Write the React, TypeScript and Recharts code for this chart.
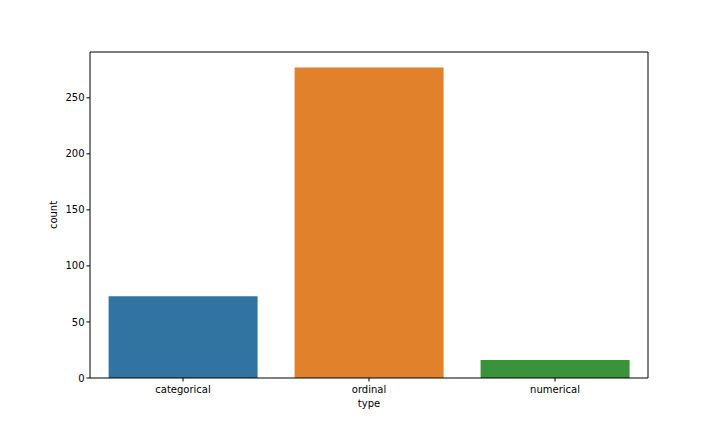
import React from "react";
import { BarChart, Bar, XAxis, YAxis, Cell, Label } from "recharts";

const categories = ["categorical", "ordinal", "numerical"];
const counts = [73, 277, 16];
const colors = ["#3274a1", "#e1812c", "#3a923a"];
const yTicks = [0, 50, 100, 150, 200, 250];

const data = categories.map((c, i) => ({ type: c, count: counts[i] }));

const font = { fontFamily: "DejaVu Sans", fontSize: 10, fill: "#000" };

export default function App() {
  return (
    <div style={{ position: "absolute", left: 0, top: 0, width: 720, height: 432, background: "#fff" }}>
      <BarChart
        width={720}
        height={432}
        data={data}
        margin={{ top: 51, right: 71, bottom: 24, left: 0 }}
        barCategoryGap="10%"
      >
        <XAxis
          dataKey="type"
          xAxisId="main"
          height={30}
          tick={font}
          tickSize={3.5}
          tickMargin={4}
          axisLine={{ stroke: "#000", strokeWidth: 1 }}
          tickLine={{ stroke: "#000" }}
        >
          <Label value="type" position="insideBottom" offset={1} style={font} />
        </XAxis>
        <XAxis
          dataKey="type"
          xAxisId="top"
          orientation="top"
          height={1}
          tick={false}
          tickLine={false}
          axisLine={{ stroke: "#000", strokeWidth: 1 }}
        />
        <YAxis
          yAxisId="main"
          width={90}
          domain={[0, 290.85]}
          ticks={yTicks}
          tick={font}
          tickSize={3.5}
          tickMargin={2}
          axisLine={{ stroke: "#000", strokeWidth: 1 }}
          tickLine={{ stroke: "#000" }}
        >
          <Label value="count" angle={-90} position="insideLeft" offset={53} style={{ ...font, textAnchor: "middle" }} />
        </YAxis>
        <YAxis
          yAxisId="right"
          orientation="right"
          width={1}
          domain={[0, 290.85]}
          tick={false}
          tickLine={false}
          axisLine={{ stroke: "#000", strokeWidth: 1 }}
        />
        <Bar dataKey="count" xAxisId="main" yAxisId="main" isAnimationActive={false}>
          {data.map((d, i) => (
            <Cell key={d.type} fill={colors[i]} />
          ))}
        </Bar>
        <Bar dataKey="count" xAxisId="top" yAxisId="right" fill="none" isAnimationActive={false} />
      </BarChart>
    </div>
  );
}
